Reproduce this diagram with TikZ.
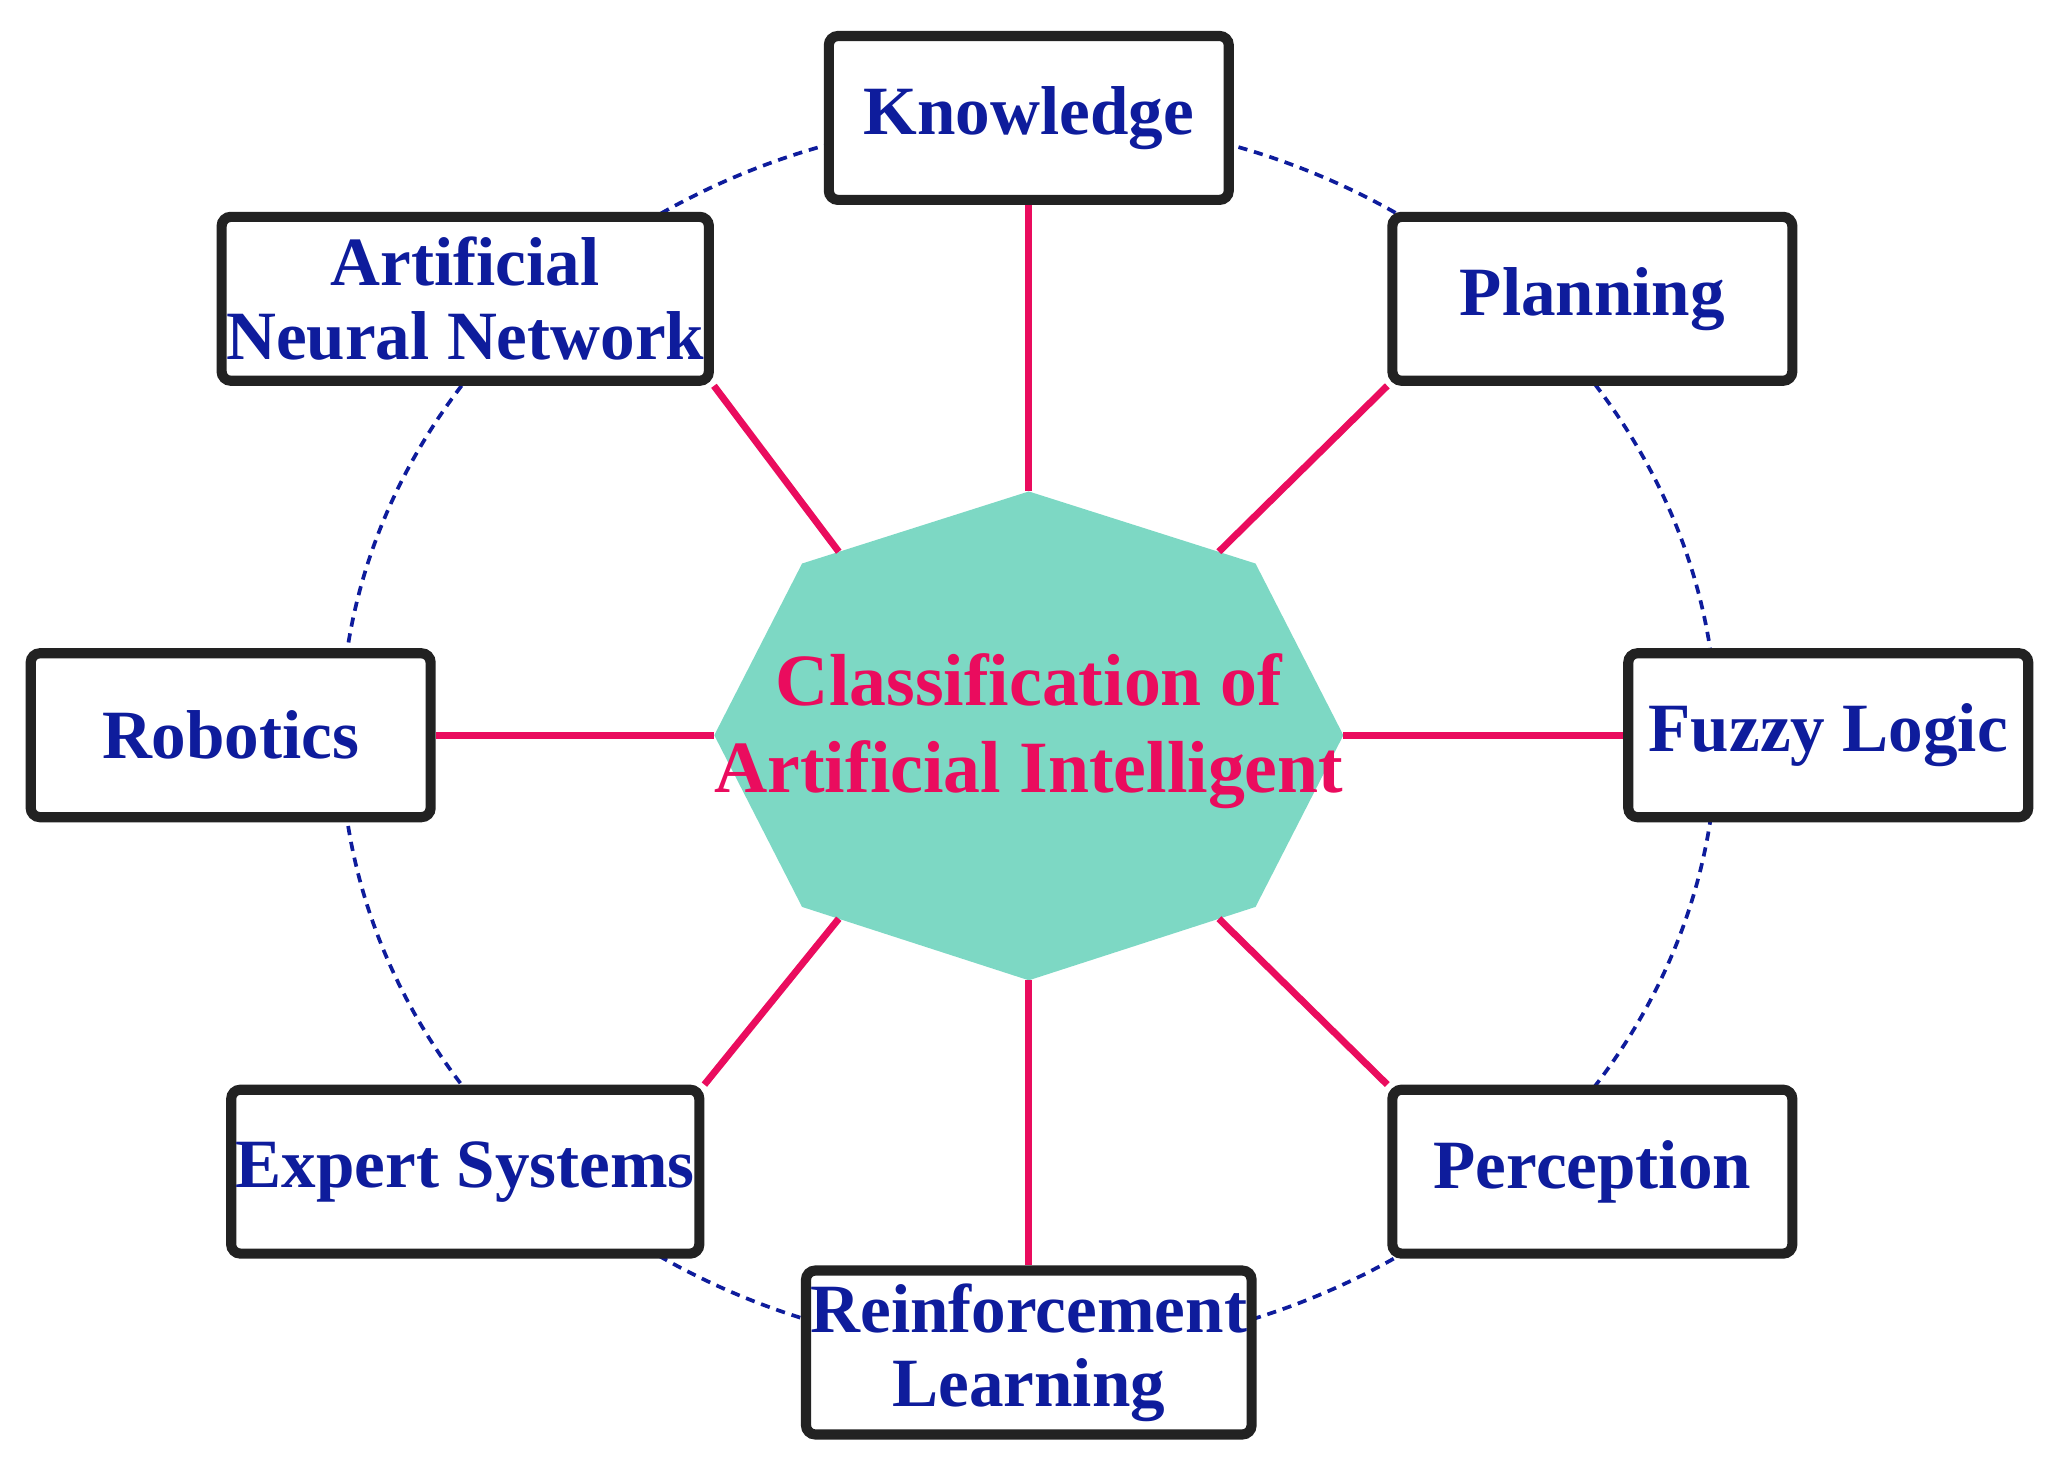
\documentclass[tikz,border=0pt]{standalone}
\usepackage{fontspec}
\setmainfont{Liberation Serif}
\definecolor{navy}{HTML}{0E1C9C}
\definecolor{pinkl}{HTML}{EA0C5E}
\definecolor{teal}{HTML}{7DD8C4}
\definecolor{boxb}{HTML}{222222}
\begin{document}
\begin{tikzpicture}[x=0.01cm,y=-0.01cm,
  box/.style={draw=boxb,line width=2.2pt,rounded corners=2pt,fill=white,minimum width=3.05cm,minimum height=1.25cm,align=center,font=\fontsize{15}{16}\selectfont\bfseries,text=navy,inner sep=1pt},
  conn/.style={pinkl,line width=1.5pt},
  ring/.style={navy,line width=0.8pt,dash pattern=on 2pt off 1.5pt}]
\useasboundingbox (0,0) rectangle (1568,1125);
\draw[ring] (785,561) ellipse [x radius=525, y radius=471];
\coordinate (v1) at (785,375); \coordinate (v2) at (958,430);
\coordinate (v3) at (1025,561); \coordinate (v4) at (958,692);
\coordinate (v5) at (785,748); \coordinate (v6) at (612,692);
\coordinate (v7) at (545,561); \coordinate (v8) at (612,430);
\coordinate (e2) at (930,421); \coordinate (e4) at (930,701);
\coordinate (e6) at (640,701); \coordinate (e8) at (640,421);
\fill[teal] (v1)--(v2)--(v3)--(v4)--(v5)--(v6)--(v7)--(v8)--cycle;
\node[font=\fontsize{16}{19}\selectfont\bfseries,text=pinkl,align=center] (c) at (785,558) {Classification of\\Artificial Intelligent};
\node[box] (kn) at (785,90) {Knowledge};
\node[box] (ann) at (355,228) {Artificial\\Neural Network};
\node[box] (pl) at (1215,228) {Planning};
\node[box] (rob) at (176,561) {Robotics};
\node[box] (fz) at (1395,561) {Fuzzy Logic};
\node[box] (ex) at (355,894) {Expert Systems};
\node[box] (pe) at (1215,894) {Perception};
\node[box] (rl) at (785,1032) {Reinforcement\\Learning};
\draw[conn] (kn.south) -- (v1);
\draw[conn] (rl.north) -- (v5);
\draw[conn] (rob.east) -- (v7);
\draw[conn] (fz.west) -- (v3);
\draw[conn] (ann.south east) -- (e8);
\draw[conn] (pl.south west) -- (e2);
\draw[conn] (ex.north east) -- (e6);
\draw[conn] (pe.north west) -- (e4);
\end{tikzpicture}
\end{document}
